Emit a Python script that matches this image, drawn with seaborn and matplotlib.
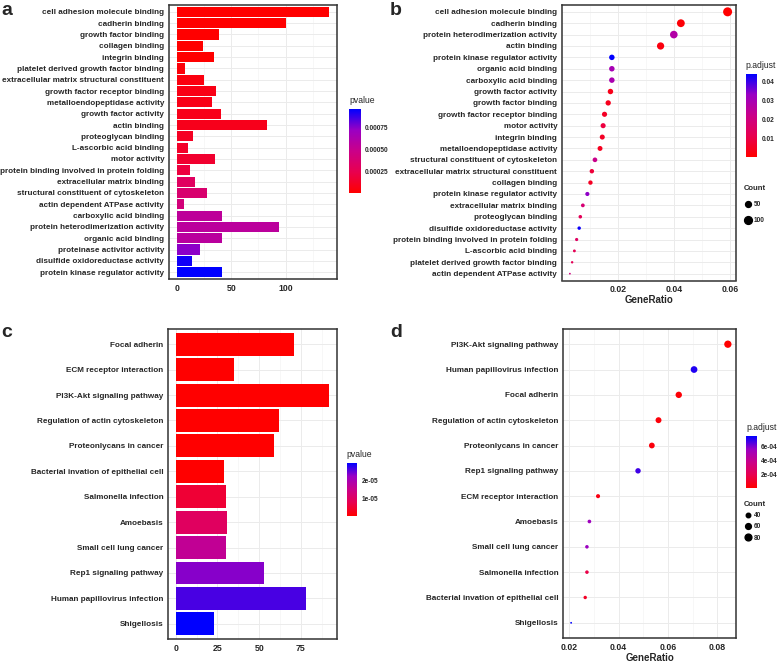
import numpy as np
import pandas as pd
import matplotlib
matplotlib.use('Agg')
import matplotlib.pyplot as plt
import seaborn as sns
from matplotlib.colors import LinearSegmentedColormap, Normalize
from matplotlib.cm import ScalarMappable
from matplotlib.lines import Line2D
from matplotlib.ticker import MultipleLocator

sns.set_style('white')
plt.rcParams['font.family'] = ['Liberation Sans', 'DejaVu Sans']
plt.rcParams['font.weight'] = 'bold'
plt.rcParams['axes.labelweight'] = 'bold'

# --- a: GO enrichment, bar chart ---
a_terms = ['cell adhesion molecule binding', 'cadherin binding', 'growth factor binding',
           'collagen binding', 'integrin binding', 'platelet derived growth factor binding',
           'extracellular matrix structural constituent', 'growth factor receptor binding',
           'metalloendopeptidase activity', 'growth factor activity', 'actin binding',
           'proteoglycan binding', 'L-ascorbic acid binding', 'motor activity',
           'protein binding involved in protein folding', 'extracellular matrix binding',
           'structural constituent of cytoskeleton', 'actin dependent ATPase activity',
           'carboxylic acid binding', 'protein heterodimerization activity',
           'organic acid binding', 'proteinase activitor activity',
           'disulfide oxidoreductase activity', 'protein kinase regulator activity']
a_count = [140, 100, 39, 24, 34, 8, 25, 36, 32, 41, 83, 15, 10, 35, 12, 17, 28, 7,
           42, 94, 42, 21, 14, 42]
a_pvalue = [1e-12, 5e-11, 2e-10, 1e-9, 3e-9, 2.9e-5, 4.8e-5, 6.7e-5, 6.9e-5, 7.7e-5,
            8.6e-5, 1.06e-4, 1.25e-4, 1.44e-4, 1.92e-4, 3.07e-4, 3.65e-4, 4.13e-4,
            5.47e-4, 5.57e-4, 5.66e-4, 7.39e-4, 9.31e-4, 9.6e-4]

# --- b: GO enrichment, dot plot ---
b_terms = ['cell adhesion molecule binding', 'cadherin binding',
           'protein heterodimerization activity', 'actin binding',
           'protein kinase regulator activity', 'organic acid binding',
           'carboxylic acid binding', 'growth factor activity', 'growth factor binding',
           'growth factor receptor binding', 'motor activity', 'integrin binding',
           'metalloendopeptidase activity', 'structural constituent of cytoskeleton',
           'extracellular matrix structural constituent', 'collagen binding',
           'protein kinase regulator activity', 'extracellular matrix binding',
           'proteoglycan binding', 'disulfide oxidoreductase activity',
           'protein binding involved in protein folding', 'L-ascorbic acid binding',
           'platelet derived growth factor binding', 'actin dependent ATPase activity']
b_ratio = [0.059, 0.0424, 0.0399, 0.0352, 0.0179, 0.0179, 0.0179, 0.0174, 0.0166,
           0.0153, 0.0148, 0.0145, 0.0137, 0.0119, 0.0108, 0.0103, 0.0092, 0.0076,
           0.0067, 0.0063, 0.0054, 0.0046, 0.0038, 0.0030]
b_count = [140, 100, 94, 83, 42, 42, 42, 41, 39, 36, 35, 34, 32, 28, 25, 24, 21, 17,
           15, 14, 12, 10, 8, 7]
b_padj = [1e-10, 0.0009, 0.0275, 0.0022, 0.0440, 0.0302, 0.0293, 0.0036, 0.0040,
          0.0053, 0.0089, 0.0053, 0.0044, 0.0222, 0.0080, 0.0049, 0.0337, 0.0178,
          0.0124, 0.0430, 0.0142, 0.0120, 0.0124, 0.0200]

# --- c: KEGG enrichment, bar chart ---
c_terms = ['Focal adherin', 'ECM receptor interaction', 'PI3K-Akt signaling pathway',
           'Regulation of actin cytoskeleton', 'Proteonlycans in cancer',
           'Bacterial invation of epithelial cell', 'Salmonella infection', 'Amoebasis',
           'Small cell lung cancer', 'Rep1 signaling pathway',
           'Human papillovirus infection', 'Shigellosis']
c_count = [71, 35, 92, 62, 59, 29, 30, 31, 30, 53, 78, 23]
c_pvalue = [1e-9, 2e-9, 5e-9, 1e-8, 5e-8, 1e-7, 5.0e-6, 9.4e-6, 1.62e-5, 2.3e-5,
            2.6e-5, 2.95e-5]

# --- d: KEGG enrichment, dot plot ---
d_terms = ['PI3K-Akt signaling pathway', 'Human papillovirus infection', 'Focal adherin',
           'Regulation of actin cytoskeleton', 'Proteonlycans in cancer',
           'Rep1 signaling pathway', 'ECM receptor interaction', 'Amoebasis',
           'Small cell lung cancer', 'Salmonella infection',
           'Bacterial invation of epithelial cell', 'Shigellosis']
d_ratio = [0.0843, 0.0706, 0.0644, 0.0562, 0.0535, 0.0479, 0.0317, 0.0282, 0.0272,
           0.0272, 0.0265, 0.0208]
d_count = [92, 78, 71, 62, 59, 53, 35, 31, 30, 30, 29, 23]
d_padj = [1e-9, 7.2e-4, 1.5e-5, 2.3e-5, 3.0e-5, 6.8e-4, 4.6e-5, 5.5e-4, 5.6e-4,
          1.7e-4, 9.1e-5, 7.6e-4]

# ggplot-like red -> blue gradient (Lab interpolation)
cmap = LinearSegmentedColormap.from_list(
    'redblue', ['#FF0000', '#E8004F', '#CA0089', '#9A00C3', '#0000FF'])

W, H = 778, 663
fig = plt.figure(figsize=(W / 100, H / 100), dpi=100)


def px_axes(x0, y0, x1, y1):
    return fig.add_axes([x0 / W, 1 - y1 / H, (x1 - x0) / W, (y1 - y0) / H])


def dot_area(v, cmin, cmax, d0, d1):
    # ggplot area_pal: diameter grows with sqrt of the rescaled value (pixels -> pt^2)
    t = (v - cmin) / (cmax - cmin)
    return ((d0 + np.sqrt(t) * (d1 - d0)) * 0.72) ** 2


def style_axes(ax, major, minor):
    ax.set_axisbelow(True)
    ax.xaxis.set_major_locator(MultipleLocator(major))
    ax.xaxis.set_minor_locator(MultipleLocator(minor))
    ax.grid(which='major', color='#EBEBEB', lw=0.7)
    ax.grid(which='minor', axis='x', color='#F2F2F2', lw=0.4)
    for s in ax.spines.values():
        s.set_color('#333333')
        s.set_linewidth(1.1)
    ax.tick_params(axis='y', labelsize=5.9, length=2, pad=1.5, color='#333333')
    ax.tick_params(axis='x', which='major', labelsize=6.3, length=2, pad=1.5, color='#333333')
    ax.tick_params(axis='x', which='minor', length=0)
    ax.set_ylabel('')


def add_colorbar(rect, vals, title, ticks, labels):
    cax = px_axes(*rect)
    sm = ScalarMappable(norm=Normalize(min(vals), max(vals)), cmap=cmap)
    cb = fig.colorbar(sm, cax=cax)
    cb.outline.set_visible(False)
    cb.set_ticks(ticks)
    cb.set_ticklabels(labels)
    cax.tick_params(labelsize=4.7, length=2, width=0.5, color='white', direction='in', pad=3)
    cax.set_title(title, loc='left', fontsize=6.2, pad=4)


def size_legend(vals, counts, d0, d1, anchor, spacing):
    handles = []
    for v in vals:
        s = dot_area(v, min(counts), max(counts), d0, d1)
        handles.append(Line2D([], [], marker='o', ls='', color='black',
                              markersize=np.sqrt(s), label=str(v)))
    fig.legend(handles=handles, title='Count', loc='upper left',
               bbox_to_anchor=(anchor[0] / W, 1 - anchor[1] / H), frameon=False,
               fontsize=4.7, title_fontsize=5.5, handletextpad=0.3, labelspacing=spacing,
               borderpad=0, borderaxespad=0, handlelength=1.2, alignment='left')


def bar_panel(ax, terms, counts, pvals, major, minor):
    df = pd.DataFrame({'term': terms, 'count': counts, 'pvalue': pvals})
    sns.barplot(data=df, x='count', y='term', hue='pvalue', palette=cmap,
                hue_norm=(df['pvalue'].min(), df['pvalue'].max()), dodge=False,
                legend=False, errorbar=None, width=0.9, saturation=1, linewidth=0, ax=ax)
    n = len(terms)
    top = df['count'].max()
    ax.set_ylim(n - 0.4, -0.6)
    ax.set_xlim(-0.05 * top, 1.05 * top)
    ax.set_xlabel('')
    style_axes(ax, major, minor)


def dot_panel(ax, terms, ratio, counts, padj, d0, d1, major, minor):
    df = pd.DataFrame({'ratio': ratio, 'count': counts, 'padj': padj})
    df['pos'] = np.arange(len(terms))
    cmin, cmax = df['count'].min(), df['count'].max()
    sizes = {v: dot_area(v, cmin, cmax, d0, d1) for v in df['count'].unique()}
    sns.scatterplot(data=df, x='ratio', y='pos', hue='padj', size='count', palette=cmap,
                    hue_norm=(df['padj'].min(), df['padj'].max()), sizes=sizes,
                    legend=False, edgecolor='none', ax=ax)
    n = len(terms)
    ax.set_yticks(df['pos'])
    ax.set_yticklabels(terms)
    ax.set_ylim(n - 0.4, -0.6)
    lo, hi = df['ratio'].min(), df['ratio'].max()
    pad = 0.05 * (hi - lo)
    ax.set_xlim(lo - pad, hi + pad)
    ax.set_xlabel('GeneRatio', fontsize=7, labelpad=0.5)
    style_axes(ax, major, minor)


# panel a
ax_a = px_axes(169, 5, 337, 279)
bar_panel(ax_a, a_terms, a_count, a_pvalue, 50, 25)
add_colorbar((349, 109, 361, 193), a_pvalue, 'pvalue',
             [0.00025, 0.0005, 0.00075], ['0.00025', '0.00050', '0.00075'])

# panel b
ax_b = px_axes(562, 5, 735.5, 280.5)
dot_panel(ax_b, b_terms, b_ratio, b_count, b_padj, 1.8, 9.0, 0.02, 0.01)
add_colorbar((745.7, 74, 757.3, 157), b_padj, 'p.adjust',
             [0.01, 0.02, 0.03, 0.04], ['0.01', '0.02', '0.03', '0.04'])
size_legend([50, 100], b_count, 1.8, 9.0, (744, 185), 1.4)

# panel c
ax_c = px_axes(168, 329, 337, 639)
bar_panel(ax_c, c_terms, c_count, c_pvalue, 25, 12.5)
add_colorbar((346.7, 463, 357.3, 516), c_pvalue, 'pvalue',
             [1e-5, 2e-5], ['1e-05', '2e-05'])

# panel d
ax_d = px_axes(563.3, 329, 735.7, 638)
dot_panel(ax_d, d_terms, d_ratio, d_count, d_padj, 1.8, 7.3, 0.02, 0.01)
add_colorbar((746, 436, 756.7, 488), d_padj, 'p.adjust',
             [2e-4, 4e-4, 6e-4], ['2e-04', '4e-04', '6e-04'])
size_legend([40, 60, 80], d_count, 1.8, 7.3, (744, 501), 0.65)

# panel letters
for letter, x, y in [('a', 1, 15), ('b', 390, 15), ('c', 1, 337), ('d', 390, 337)]:
    fig.text(x / W, 1 - y / H, letter, fontsize=14, fontweight='bold', va='baseline')

fig.savefig('out.png', dpi=100)
